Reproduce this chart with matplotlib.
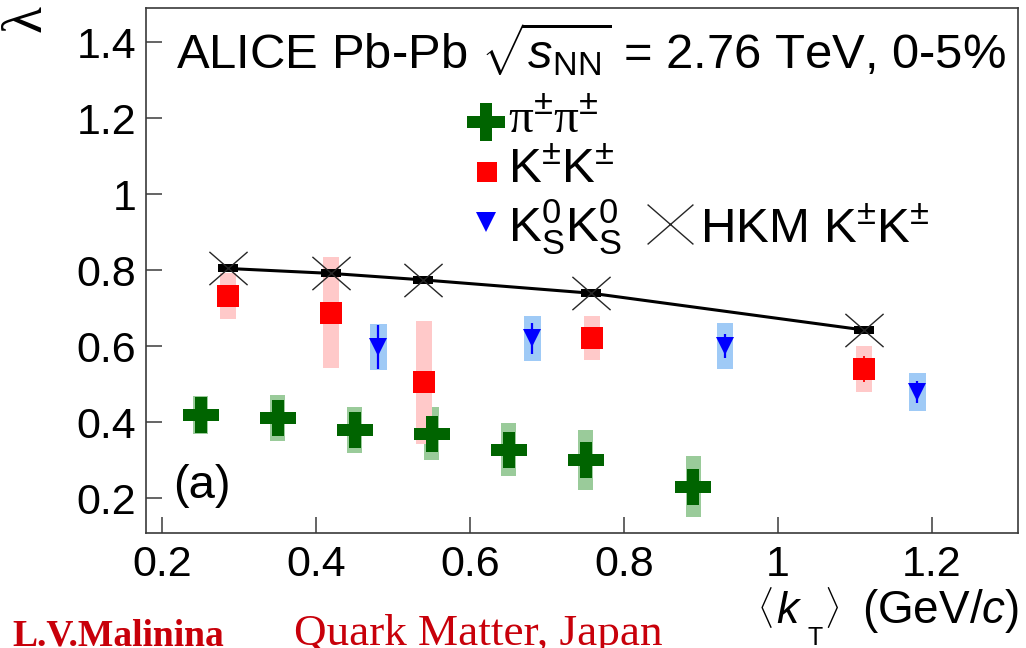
import matplotlib
matplotlib.use("Agg")
import matplotlib.pyplot as plt
from matplotlib.path import Path

# ---- data -----------------------------------------------------------------
# pi+- pi+- correlation strength vs <kT>
pion_kt = [0.25, 0.35, 0.45, 0.55, 0.65, 0.75, 0.89]
pion_lambda = [0.418, 0.41, 0.379, 0.369, 0.327, 0.30, 0.23]
pion_sys = [0.05, 0.06, 0.061, 0.07, 0.07, 0.08, 0.08]

# K+- K+-
kch_kt = [0.286, 0.419, 0.54, 0.758, 1.112]
kch_lambda = [0.732, 0.688, 0.504, 0.622, 0.54]
kch_stat = [0.015, 0.015, 0.025, 0.015, 0.035]
kch_sys = [0.061, 0.145, 0.163, 0.058, 0.06]

# K0s K0s
k0s_kt = [0.481, 0.681, 0.931, 1.181]
k0s_lambda = [0.597, 0.62, 0.60, 0.479]
k0s_stat = [0.058, 0.04, 0.032, 0.03]
k0s_sys = [0.06, 0.06, 0.06, 0.05]

# HKM model, K+- K+-
hkm_kt = [0.286, 0.42, 0.539, 0.757, 1.112]
hkm_lambda = [0.804, 0.791, 0.774, 0.739, 0.642]

x_ticks = [0.2, 0.4, 0.6, 0.8, 1.0, 1.2]
x_tick_labels = ["0.2", "0.4", "0.6", "0.8", "1", "1.2"]
y_ticks = [0.2, 0.4, 0.6, 0.8, 1.0, 1.2, 1.4]
y_tick_labels = ["0.2", "0.4", "0.6", "0.8", "1", "1.2", "1.4"]

# ---- style ----------------------------------------------------------------
plt.rcParams["font.family"] = ["Liberation Sans", "DejaVu Sans"]
plt.rcParams["mathtext.fontset"] = "custom"
plt.rcParams["mathtext.rm"] = "Liberation Sans"
plt.rcParams["mathtext.it"] = "Liberation Sans:italic"
plt.rcParams["mathtext.bf"] = "Liberation Sans:bold"
plt.rcParams["mathtext.sf"] = "Liberation Serif"

W, H = 1026, 648
fig = plt.figure(figsize=(W / 100, H / 100), dpi=100)


def fx(px):
    return px / W


def fy(py):
    return 1 - py / H


ax = fig.add_axes([fx(146), fy(533), fx(1018 - 146), (533 - 8) / H])
ax.set_xlim(0.1792, 1.3117)
ax.set_ylim(0.1079, 1.4895)

GREEN, GREEN_SYS = "#006400", "#9acb9a"
RED, RED_SYS = "#ff0000", "#ffc9c9"
BLUE, BLUE_SYS = "#0000ff", "#9fcaf6"

# systematic uncertainty boxes
ax.bar(pion_kt, [2 * s for s in pion_sys],
       bottom=[v - s for v, s in zip(pion_lambda, pion_sys)],
       width=0.02, color=GREEN_SYS, zorder=1)
ax.bar(kch_kt, [2 * s for s in kch_sys],
       bottom=[v - s for v, s in zip(kch_lambda, kch_sys)],
       width=0.021, color=RED_SYS, zorder=1)
ax.bar(k0s_kt, [2 * s for s in k0s_sys],
       bottom=[v - s for v, s in zip(k0s_lambda, k0s_sys)],
       width=0.0215, color=BLUE_SYS, zorder=1)

# HKM curve
box_marker = [(-1.25, -0.45), (1.25, -0.45), (1.25, 0.45), (-1.25, 0.45), (-1.25, -0.45)]
x_marker = Path([(-1.15, -1), (1.15, 1), (-1.15, 1), (1.15, -1)],
                [Path.MOVETO, Path.LINETO, Path.MOVETO, Path.LINETO])
ax.plot(hkm_kt, hkm_lambda, color="black", lw=2.2, zorder=3)
ax.plot(hkm_kt, hkm_lambda, ls="none", marker=box_marker, ms=14.5,
        color="black", mew=0, zorder=4)
ax.plot(hkm_kt, hkm_lambda, ls="none", marker=x_marker, ms=27.5,
        color="#262626", mew=1.0, zorder=4)

# measurements
ax.errorbar(kch_kt, kch_lambda, yerr=kch_stat, fmt="s", ms=16.5, color=RED,
            mew=0, elinewidth=1.3, capsize=0, zorder=5)
ax.errorbar(k0s_kt, k0s_lambda, yerr=k0s_stat, fmt="v", ms=12.5, color=BLUE,
            mew=0, elinewidth=1.6, capsize=0, zorder=5)
ax.plot(pion_kt, pion_lambda, ls="none", marker="P", ms=26.5, color=GREEN,
        mew=0, zorder=5)

# axes styling
for sp in ax.spines.values():
    sp.set_color("#3a3a3a")
    sp.set_linewidth(1.2)
ax.set_xticks(x_ticks, x_tick_labels)
ax.set_yticks(y_ticks, y_tick_labels)
ax.tick_params(direction="in", length=11.5, width=1.1, color="#3a3a3a",
               labelsize=31, top=False, right=False)
ax.tick_params(axis="x", pad=9)
ax.tick_params(axis="y", pad=7)
ax.minorticks_off()

# y-axis title
fig.text(fx(27), fy(19), "λ", rotation=90, fontsize=40,
         family=["Liberation Serif", "DejaVu Serif"], ha="center", va="center")

# x-axis title, <kT> (GeV/c), assembled piece by piece
fig.text(fx(757), fy(620), r"$\langle$", fontsize=25, ha="left", va="baseline")
fig.text(fx(776), fy(623), "k", fontsize=32, style="italic",
         ha="left", va="baseline")
fig.text(fx(807), fy(645), "T", fontsize=18, ha="left", va="baseline")
fig.text(fx(824), fy(620), r"$\rangle$", fontsize=25, ha="left", va="baseline")
fig.text(fx(1019), fy(623), r"(GeV/$c$)", fontsize=33,
         ha="right", va="baseline")

# header and legend
fig.text(fx(176), fy(68), r"ALICE Pb-Pb $\sqrt{s_{\rm NN}}$ = 2.76 TeV, 0-5%",
         fontsize=35.3, ha="left", va="baseline")

ax.plot([fx(486)], [fy(122)], transform=fig.transFigure, marker="P", ms=27,
        color=GREEN, mew=0, clip_on=False)
ax.plot([fx(487)], [fy(172)], transform=fig.transFigure, marker="s", ms=14.5,
        color=RED, mew=0, clip_on=False)
ax.plot([fx(486)], [fy(222)], transform=fig.transFigure, marker="v", ms=14,
        color=BLUE, mew=0, clip_on=False)
ax.plot([fx(670)], [fy(224)], transform=fig.transFigure, marker=x_marker, ms=33,
        color="#262626", mew=1.0, clip_on=False)

LEG = 35.5
fig.text(fx(508), fy(132), r"$\mathsf{\pi}^{\pm}\mathsf{\pi}^{\pm}$",
         fontsize=LEG, ha="left", va="baseline")
fig.text(fx(508), fy(182), r"K$^{\pm}$K$^{\pm}$",
         fontsize=LEG, ha="left", va="baseline")
fig.text(fx(508), fy(242), r"K$^{0}_{\rm S}$K$^{0}_{\rm S}$",
         fontsize=LEG, ha="left", va="baseline")
fig.text(fx(700), fy(242), r"HKM K$^{\pm}$K$^{\pm}$",
         fontsize=LEG, ha="left", va="baseline")

ax.text(0.2145, 0.2, "(a)", fontsize=34, ha="left", va="baseline")

# footer
fig.text(fx(12), fy(645), "L.V.Malinina", color="#c8000a", fontsize=27,
         fontweight="bold", family="Liberation Serif", ha="left", va="baseline")
fig.text(fx(294), fy(645), "Quark Matter, Japan", color="#c8000a", fontsize=32.5,
         family="Liberation Serif", ha="left", va="baseline")

fig.savefig("out.png", dpi=100)
